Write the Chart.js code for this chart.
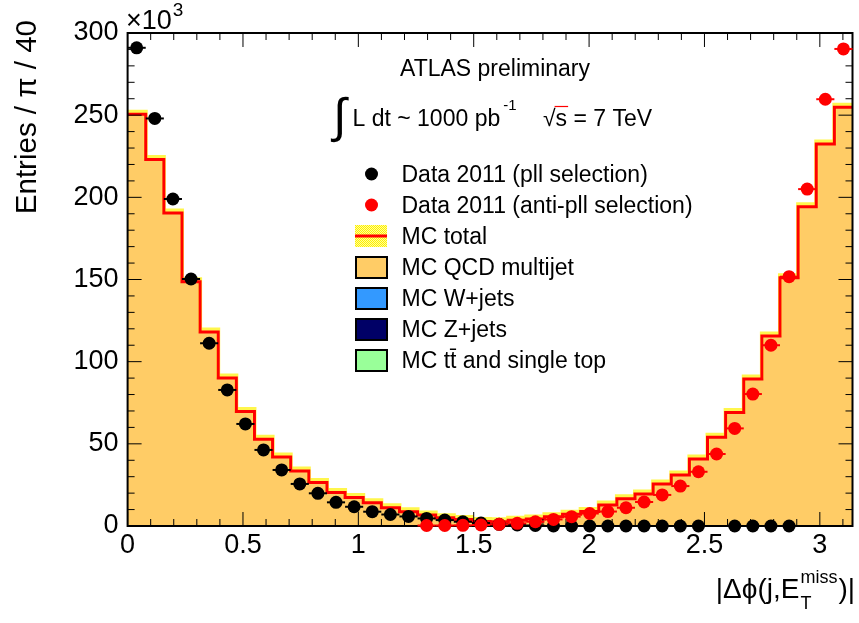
<!DOCTYPE html>
<html><head><meta charset="utf-8">
<script src="https://cdn.jsdelivr.net/npm/chart.js@4/dist/chart.umd.min.js"></script>
<style>html,body{margin:0;padding:0;background:#fff;}#wrap{width:859px;height:623px;}</style>
</head><body><div id="wrap"><canvas id="c" width="859" height="623"></canvas></div>
<script>
// ---------------- data ----------------
const nBins = 40;                     // 40 bins of width pi/40 on [0, pi]
const xTicks = [0, 0.5, 1, 1.5, 2, 2.5, 3];
const yTicks = [0, 50, 100, 150, 200, 250, 300];   // x10^3
const mcTotal = [250.5, 223, 190.5, 148.7, 118, 90, 69.6, 52.8, 42, 33.5,
                 26.4, 20.4, 17.3, 14.2, 11.1, 8.7, 6.7, 5.0, 4.0, 2.7,
                 2.6, 3.5, 4.2, 5.7, 7.1, 8.8, 12.8, 16.6, 19.5, 25.6,
                 31, 40.8, 54, 69, 89.5, 115.6, 151, 194.3, 232.5, 254.8];
const dataPll = [291, 248, 199, 150.3, 111.2, 82.8, 62.1, 46.3, 34.1, 25.6,
                 19.9, 14.4, 11.7, 8.7, 7.0, 5.8, 4.6, 3.6, 2.6, 1.8,
                 1.0, 0.6, 0.3, 0, 0, 0, 0, 0, 0, 0,
                 0, 0, null, 0, 0, 0, 0, null, null, null];
const dataAntiPll = [null, null, null, null, null, null, null, null, null, null,
                 null, null, null, null, null, null, 0.3, 0.3, 0.4, 0.6,
                 1.0, 1.6, 2.6, 4.0, 5.7, 7.6, 8.8, 11.1, 14.6, 18.9,
                 24.3, 33, 43.8, 59.4, 80.3, 110, 151.7, 205, 259.7, 290.3];
const legendLabels = ['Data 2011 (pll selection)', 'Data 2011 (anti-pll selection)', 'MC total',
                      'MC QCD multijet', 'MC W+jets', 'MC Z+jets', 'MC t\u0074\u0304 and single top'];
const legendColors = ['#000000', '#ff0000', null, '#ffcc66', '#3399ff', '#000066', '#99ff99'];

// ---------------- helpers ----------------
const FONT = '"Liberation Sans", Arial, Helvetica, sans-serif';
const xMax = Math.PI;
const binW = xMax / nBins;
const edgePts = mcTotal.map((v, k) => ({x: k * binW, y: v}));
edgePts.push({x: xMax, y: mcTotal[nBins - 1]});
const centerPts = arr => arr.map((v, k) => ({x: (k + 0.5) * binW, y: v}));

const yellowPat = (() => {
  const c = document.createElement('canvas'); c.width = 2; c.height = 2;
  const g = c.getContext('2d');
  g.fillStyle = '#ffff99'; g.fillRect(0, 0, 2, 2);
  g.fillStyle = '#ffee00'; g.fillRect(0, 0, 1, 1); g.fillRect(1, 1, 1, 1);
  return g.createPattern(c, 'repeat');
})();

const halfBinPx = ctx => {
  const s = ctx.chart.scales.x;
  return (s.getPixelForValue(binW) - s.getPixelForValue(0)) / 2;
};

function drawFrame(chart) {
  const {ctx, chartArea: a, scales: {x, y}} = chart;
  ctx.save();
  ctx.strokeStyle = '#000';
  ctx.lineWidth = 1;
  ctx.beginPath();
  for (let v = 0; v <= 3.1001; v += 0.1) {
    const px = x.getPixelForValue(v);
    const major = Math.abs(v * 2 - Math.round(v * 2)) < 1e-6;
    const L = major ? 14 : 7;
    ctx.moveTo(px, a.bottom); ctx.lineTo(px, a.bottom - L);
    ctx.moveTo(px, a.top); ctx.lineTo(px, a.top + L);
  }
  for (let v = 0; v <= 300; v += 10) {
    const py = y.getPixelForValue(v);
    const L = v % 50 === 0 ? 14 : 7;
    ctx.moveTo(a.left, py); ctx.lineTo(a.left + L, py);
    ctx.moveTo(a.right, py); ctx.lineTo(a.right - L, py);
  }
  ctx.stroke();
  ctx.lineWidth = 2;
  ctx.strokeRect(a.left, a.top, a.right - a.left, a.bottom - a.top);
  ctx.restore();
}

function drawTexts(chart) {
  const {ctx} = chart;
  ctx.save();
  ctx.fillStyle = '#000';
  ctx.textBaseline = 'alphabetic';
  // x10^3
  ctx.font = `27px ${FONT}`;
  ctx.textAlign = 'left';
  ctx.fillText('\u00d710', 126, 29);
  const w10 = ctx.measureText('\u00d710').width;
  ctx.font = `19px ${FONT}`;
  ctx.fillText('3', 126 + w10 + 1, 16);

  // y title
  ctx.save();
  ctx.font = `29.5px ${FONT}`;
  ctx.translate(36, 20);
  ctx.rotate(-Math.PI / 2);
  ctx.textAlign = 'right';
  ctx.fillText('Entries / \u03c0 / 40', 0, 0);
  ctx.restore();

  // x title |dphi(j,E_T^miss)|
  ctx.font = `28px ${FONT}`;
  const p1 = '|\u0394\u03d5(j,E', p3 = ')|';
  const w1 = ctx.measureText(p1).width, w3 = ctx.measureText(p3).width;
  ctx.font = `18px ${FONT}`;
  const wSup = ctx.measureText('miss').width, wSub = ctx.measureText('T').width;
  const wMid = Math.max(wSup, wSub) + 2;
  const xr = 855, base = 598;
  let xs = xr - (w1 + wMid + w3);
  ctx.font = `28px ${FONT}`;
  ctx.fillText(p1, xs, base);
  ctx.font = `18px ${FONT}`;
  ctx.fillText('miss', xs + w1 + 1, base - 15);
  ctx.fillText('T', xs + w1 + 1, base + 11);
  ctx.font = `28px ${FONT}`;
  ctx.fillText(p3, xs + w1 + wMid, base);

  // header
  ctx.font = `23px ${FONT}`;
  ctx.fillText('ATLAS preliminary', 400, 76);
  ctx.font = `48px ${FONT}`;
  ctx.fillText('\u222b', 333, 132);
  ctx.font = `23px ${FONT}`;
  const lumi = 'L dt ~ 1000 pb';
  ctx.fillText(lumi, 352.5, 126);
  const wl = ctx.measureText(lumi).width;
  ctx.font = `15px ${FONT}`;
  ctx.fillText('-1', 352.5 + wl + 3, 110);
  ctx.font = `23px ${FONT}`;
  ctx.fillText('\u221a', 543, 126);
  const wr = ctx.measureText('\u221a').width;
  ctx.fillText('s = 7 TeV', 543 + wr, 126);
  const ws = ctx.measureText('s').width;
  ctx.lineWidth = 1.2;
  ctx.beginPath();
  ctx.moveTo(543 + wr - 1, 106.5); ctx.lineTo(543 + wr + ws + 1, 106.5);
  ctx.stroke();

  // legend
  const xm = 371.5, xt = 401.5;
  const rows = [174, 205, 236, 267.5, 298.5, 329.5, 360.5];
  ctx.font = `23px ${FONT}`;
  legendLabels.forEach((lab, i) => {
    const yc = rows[i];
    if (i < 2) {
      ctx.fillStyle = legendColors[i];
      ctx.beginPath(); ctx.arc(xm, yc, 6.5, 0, Math.PI * 2); ctx.fill();
    } else if (i === 2) {
      ctx.fillStyle = yellowPat;
      ctx.fillRect(355, yc - 11, 32, 22);
      ctx.strokeStyle = '#ff0000'; ctx.lineWidth = 3;
      ctx.beginPath(); ctx.moveTo(355, yc); ctx.lineTo(387, yc); ctx.stroke();
    } else {
      ctx.fillStyle = legendColors[i];
      ctx.fillRect(356, yc - 10.5, 31, 21);
      ctx.strokeStyle = '#000'; ctx.lineWidth = 2;
      ctx.strokeRect(356, yc - 10.5, 31, 21);
    }
    ctx.fillStyle = '#000';
    ctx.fillText(lab, xt, yc + 7.5);
  });
  ctx.restore();
}

const decor = {
  id: 'decor',
  beforeDatasetDraw(chart, args) {
    if (chart.data.datasets[args.index].label === 'band') {
      chart.ctx.save(); chart.ctx.translate(0, -2.5);
    }
  },
  afterDatasetDraw(chart, args) {
    const lab = chart.data.datasets[args.index].label;
    if (lab === 'band') chart.ctx.restore();
    if (lab === 'MC total') drawFrame(chart);
  },
  afterDraw(chart) { drawTexts(chart); }
};

new Chart(document.getElementById('c'), {
  type: 'line',
  data: {
    datasets: [
      {label: 'Data anti-pll', data: centerPts(dataAntiPll), showLine: false, order: 0,
       pointRadius: 6.5, pointBackgroundColor: '#ff0000', pointBorderColor: '#ff0000', pointBorderWidth: 0, clip: false},
      {label: 'Data pll', data: centerPts(dataPll), showLine: false, order: 1,
       pointRadius: 6.5, pointBackgroundColor: '#000', pointBorderColor: '#000', pointBorderWidth: 0, clip: false},
      {label: 'err anti-pll', data: centerPts(dataAntiPll), showLine: false, order: 2,
       pointStyle: 'line', pointRadius: halfBinPx, pointBorderColor: '#ff0000', pointBorderWidth: 2, clip: false},
      {label: 'err pll', data: centerPts(dataPll), showLine: false, order: 3,
       pointStyle: 'line', pointRadius: halfBinPx, pointBorderColor: '#000', pointBorderWidth: 2, clip: false},
      {label: 'MC total', data: edgePts, stepped: 'before', order: 4, borderColor: '#ff0000',
       borderWidth: 3, pointRadius: 0, fill: false, borderJoinStyle: 'miter'},
      {label: 'band', data: edgePts, stepped: 'before', order: 5, borderColor: yellowPat,
       borderWidth: 4, pointRadius: 0, fill: false, borderJoinStyle: 'miter'},
      {label: 'MC QCD multijet', data: edgePts, stepped: 'before', order: 6, borderWidth: 0,
       borderColor: 'rgba(0,0,0,0)', backgroundColor: '#ffcc66', pointRadius: 0, fill: 'origin'}
    ]
  },
  options: {
    responsive: false, animation: false, events: [],
    layout: {padding: {left: 0, top: 33, right: 4.4, bottom: 0}},
    plugins: {legend: {display: false}, tooltip: {enabled: false}},
    scales: {
      x: {
        type: 'linear', min: 0, max: xMax,
        afterBuildTicks: s => { s.ticks = xTicks.map(v => ({value: v})); },
        afterFit: s => { s.height = 97; },
        grid: {display: false, drawTicks: false}, border: {display: false},
        ticks: {font: {size: 27, family: FONT}, color: '#000', padding: 3, maxRotation: 0,
                autoSkip: false, callback: v => String(v)}
      },
      y: {
        type: 'linear', min: 0, max: 300,
        afterBuildTicks: s => { s.ticks = yTicks.map(v => ({value: v})); },
        afterFit: s => { s.width = 127.6; },
        grid: {display: false, drawTicks: false}, border: {display: false},
        ticks: {font: {size: 27, family: FONT}, color: '#000', padding: 9, callback: v => String(v)}
      }
    }
  },
  plugins: [decor]
});
</script></body></html>
